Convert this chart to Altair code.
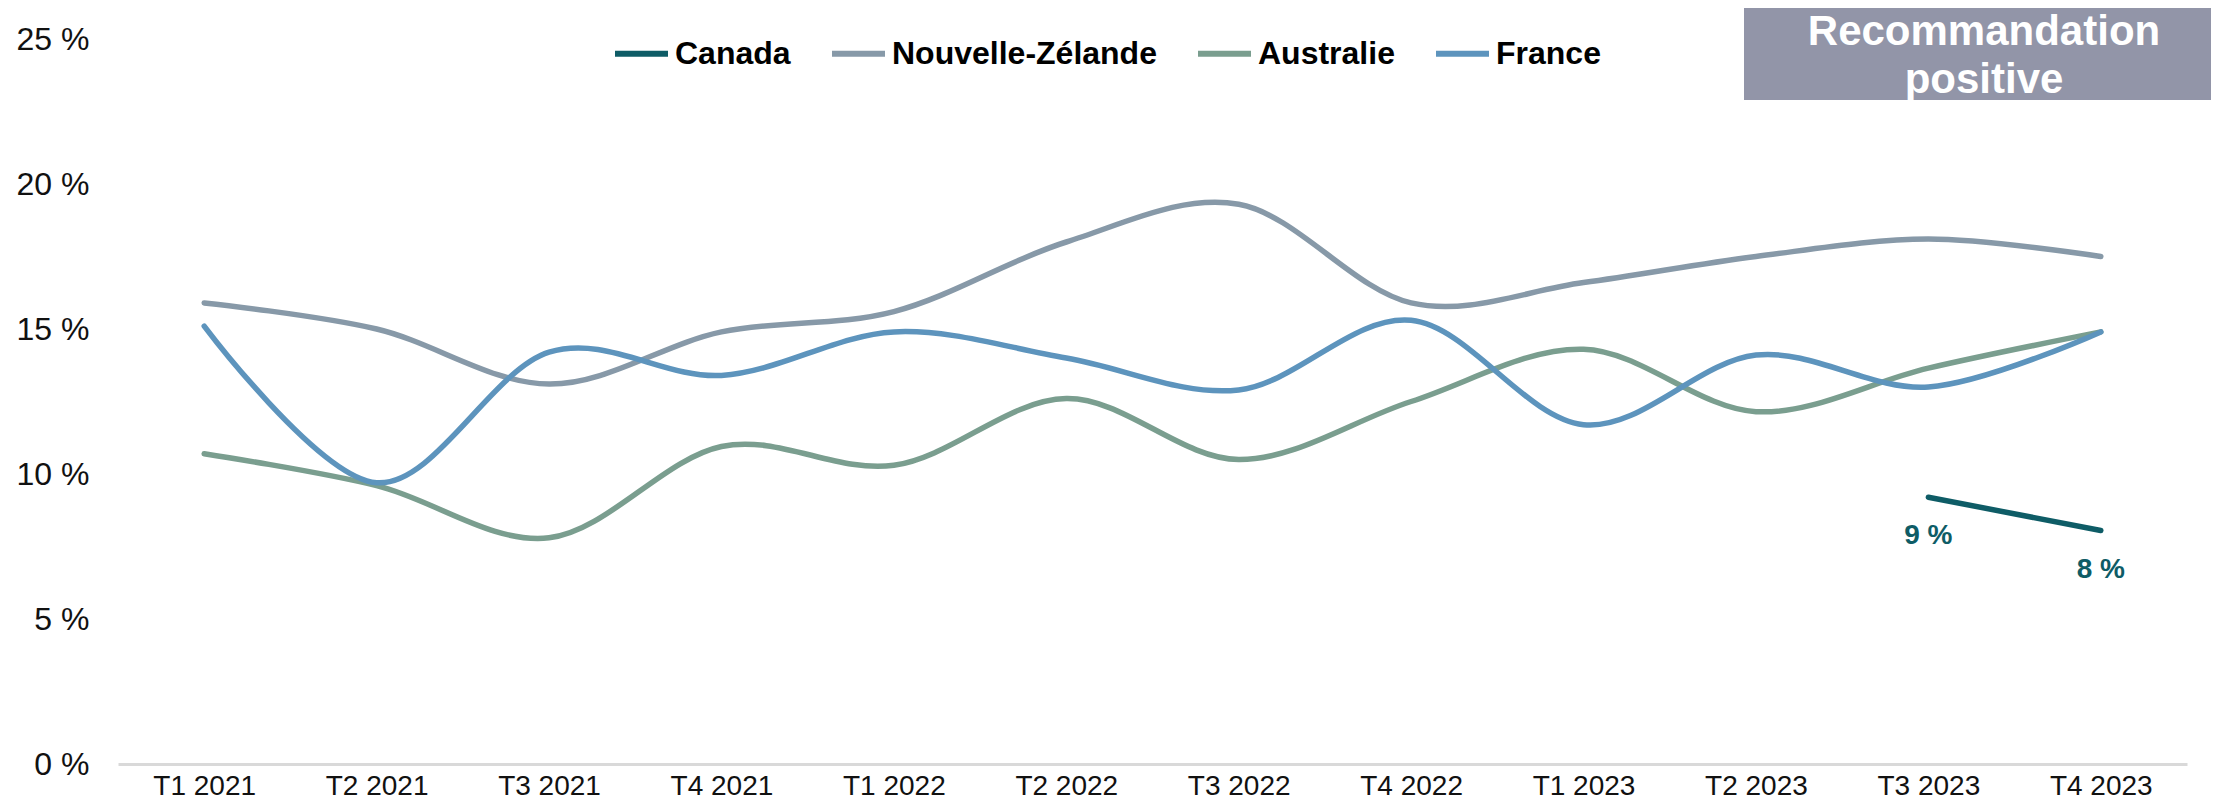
import altair as alt
import pandas as pd

periods = ["T1 2021", "T2 2021", "T3 2021", "T4 2021", "T1 2022", "T2 2022",
           "T3 2022", "T4 2022", "T1 2023", "T2 2023", "T3 2023", "T4 2023"]
series_names = ["Canada", "Nouvelle-Zélande", "Australie", "France"]
series_colors = ["#0E5C66", "#8799A8", "#7A9E8F", "#5D94BD"]

canada = [None, None, None, None, None, None, None, None, None, None, 9.2, 8.05]
nouvelle_zelande = [15.9, 15.0, 13.1, 14.9, 15.6, 18.0, 19.3, 15.9, 16.6, 17.5, 18.1, 17.5]
australie = [10.7, 9.6, 7.8, 10.95, 10.3, 12.6, 10.5, 12.5, 14.3, 12.15, 13.65, 14.9]
france = [15.1, 9.7, 14.2, 13.4, 14.9, 14.0, 12.9, 15.3, 11.7, 14.1, 13.0, 14.9]

y_ticks = [0, 5, 10, 15, 20, 25]
box_lines = ["Recommandation", "positive"]
box_color = "#9295A8"

values = [canada, nouvelle_zelande, australie, france]
rows = []
for name, vals in zip(series_names, values):
    for p, v in zip(periods, vals):
        if v is not None:
            rows.append({"periode": p, "pays": name, "valeur": v})
df = pd.DataFrame(rows)

FONT = "Liberation Sans"
W, H = 2069, 725

x_enc = alt.X("periode:N", sort=periods,
              scale=alt.Scale(type="point", padding=0.5),
              axis=alt.Axis(title=None, labelAngle=0, labelFontSize=28, labelFont=FONT,
                            labelColor="#111111", labelPadding=8, ticks=False,
                            domainColor="#D9D9D9", domainWidth=3, grid=False))
y_enc = alt.Y("valeur:Q", scale=alt.Scale(domain=[0, 25], nice=False, zero=True),
              axis=alt.Axis(title=None, values=y_ticks, labelExpr="datum.value + ' %'",
                            labelFontSize=32, labelFont=FONT, labelColor="#111111",
                            labelPadding=29, ticks=False, domain=False, grid=False))
color_enc = alt.Color("pays:N", scale=alt.Scale(domain=series_names, range=series_colors),
                      legend=alt.Legend(title=None, orient="none", legendX=494, legendY=-15,
                                        direction="horizontal", columns=4,
                                        symbolType="stroke", symbolSize=2809,
                                        symbolStrokeWidth=6, labelFontSize=32,
                                        labelFont=FONT, labelFontWeight="bold",
                                        labelColor="#000000", labelOffset=4,
                                        labelLimit=600,
                                        columnPadding=29, padding=0))

base = alt.Chart(df)
layers = []
for name in series_names:
    layers.append(
        base.transform_filter(alt.datum.pays == name).mark_line(
            interpolate="cardinal", strokeWidth=5.5, strokeCap="round", strokeJoin="round"
        ).encode(x=x_enc, y=y_enc, color=color_enc)
    )

labels = base.transform_filter(alt.datum.pays == "Canada").transform_calculate(
    lab="format(datum.valeur, '.0f') + ' %'"
).mark_text(dy=39, fontSize=28, fontWeight="bold", font=FONT, color=series_colors[0]).encode(
    x=x_enc, y=y_enc, text="lab:N"
)

box_df = pd.DataFrame({"t1": [box_lines[0]], "t2": [box_lines[1]]})
box = alt.Chart(box_df).mark_rect(color=box_color).encode(
    x=alt.value(1626), x2=alt.value(2093), y=alt.value(-34), y2=alt.value(61)
)
box_t1 = alt.Chart(box_df).mark_text(fontSize=42, fontWeight="bold", font=FONT, color="white",
                                     baseline="middle").encode(
    x=alt.value(1866), y=alt.value(-7), text="t1:N")
box_t2 = alt.Chart(box_df).mark_text(fontSize=42, fontWeight="bold", font=FONT, color="white",
                                     baseline="middle").encode(
    x=alt.value(1866), y=alt.value(41), text="t2:N")

chart = alt.layer(*layers, labels, box, box_t1, box_t2).properties(
    width=W, height=H,
    background="white",
    autosize=alt.AutoSizeParams(type="none"),
    padding={"left": 110, "top": 31, "right": 32, "bottom": 38},
).configure_view(stroke="transparent", strokeWidth=0)

chart.save("out.html", embed_options={"renderer": "svg", "actions": False})
